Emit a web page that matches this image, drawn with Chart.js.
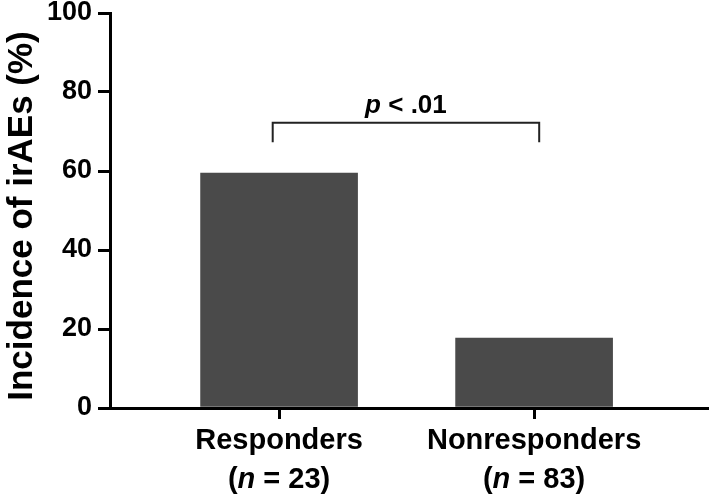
<!DOCTYPE html>
<html>
<head>
<meta charset="utf-8">
<script src="https://cdn.jsdelivr.net/npm/chart.js@4"></script>
<style>
  html, body { margin: 0; padding: 0; background: #fff; }
  #wrap { width: 709px; height: 494px; }
</style>
</head>
<body>
<div id="wrap"><canvas id="c"></canvas></div>
<script>
/* data */
var categories = ['Responders', 'Nonresponders'];
var groupSizes = [23, 83];
var incidence  = [59.5, 17.7];
var yTicks     = [0, 20, 40, 60, 80, 100];
var yTitle     = 'Incidence of irAEs (%)';

/* significance bracket (in data units) */
var bracketX   = [-0.025, 1.02];
var bracketY   = [72.2, 67.3];
var pText      = ['p', ' < .01'];

var FONT = '"Liberation Sans", Arial, Helvetica, sans-serif';

function drawParts(ctx, parts, cx, y) {
  var total = 0;
  parts.forEach(function(p) { ctx.font = p.font; total += ctx.measureText(p.t).width; });
  var x = cx - total / 2;
  parts.forEach(function(p) {
    ctx.font = p.font;
    ctx.fillText(p.t, x, y);
    x += ctx.measureText(p.t).width;
  });
}

var labelsPlugin = {
  id: 'labels',
  afterDraw: function(chart) {
    var ctx = chart.ctx, xs = chart.scales.x, ys = chart.scales.y;
    ctx.save();
    ctx.fillStyle = '#000';
    ctx.textBaseline = 'alphabetic';
    ctx.textAlign = 'left';
    var bold = 'bold 29px ' + FONT, boldIt = 'italic bold 29px ' + FONT;
    categories.forEach(function(c, i) {
      var cx = xs.getPixelForValue(i);
      drawParts(ctx, [{ t: c, font: bold }], cx, 449);
      drawParts(ctx, [
        { t: '(', font: bold },
        { t: 'n', font: boldIt },
        { t: ' = ' + groupSizes[i] + ')', font: bold }
      ], cx, 488);
    });

    /* y axis title */
    ctx.save();
    ctx.translate(32, 216);
    ctx.rotate(-Math.PI / 2);
    drawParts(ctx, [{ t: yTitle, font: 'bold 35px ' + FONT }], 0, 0);
    ctx.restore();

    /* bracket */
    var x1 = xs.getPixelForValue(bracketX[0]), x2 = xs.getPixelForValue(bracketX[1]);
    var yt = ys.getPixelForValue(bracketY[0]), yb = ys.getPixelForValue(bracketY[1]);
    ctx.strokeStyle = '#222';
    ctx.lineWidth = 2;
    ctx.beginPath();
    ctx.moveTo(x1, yb); ctx.lineTo(x1, yt); ctx.lineTo(x2, yt); ctx.lineTo(x2, yb);
    ctx.stroke();

    drawParts(ctx, [
      { t: pText[0], font: 'italic bold 26px ' + FONT },
      { t: pText[1], font: 'bold 26px ' + FONT }
    ], (x1 + x2) / 2, yt - 10);
    ctx.restore();
  }
};

new Chart(document.getElementById('c'), {
  type: 'bar',
  data: {
    datasets: [{
      data: incidence.map(function(v, i) { return { x: i, y: v }; }),
      backgroundColor: '#4a4a4a',
      borderWidth: 0,
      barThickness: 157
    }]
  },
  options: {
    responsive: true, maintainAspectRatio: false, animation: false,
    layout: { padding: { top: 13, right: 2, left: 0, bottom: 0 } },
    plugins: { legend: { display: false }, tooltip: { enabled: false } },
    scales: {
      x: {
        type: 'linear', min: -0.663, max: 1.678, offset: false,
        afterBuildTicks: function(s) { s.ticks = categories.map(function(_, i) { return { value: i }; }); },
        afterFit: function(s) { s.height = 86; s.paddingLeft = 0; s.paddingRight = 0; },
        ticks: { display: false },
        grid: { offset: false, drawOnChartArea: false, drawTicks: true, tickLength: 11, color: '#000', lineWidth: 3 },
        border: { display: true, color: '#000', width: 3 }
      },
      y: {
        min: 0, max: 100,
        afterBuildTicks: function(s) { s.ticks = yTicks.map(function(v) { return { value: v }; }); },
        afterFit: function(s) { s.width = 110; s.paddingTop = 0; s.paddingBottom = 0; },
        ticks: { color: '#000', padding: 6, font: { family: FONT, size: 27, weight: 'bold', lineHeight: 1 } },
        grid: { drawOnChartArea: false, drawTicks: true, tickLength: 12, color: '#000', lineWidth: 3 },
        border: { display: true, color: '#000', width: 3 },
        title: { display: false }
      }
    }
  },
  plugins: [labelsPlugin]
});
</script>
</body>
</html>
